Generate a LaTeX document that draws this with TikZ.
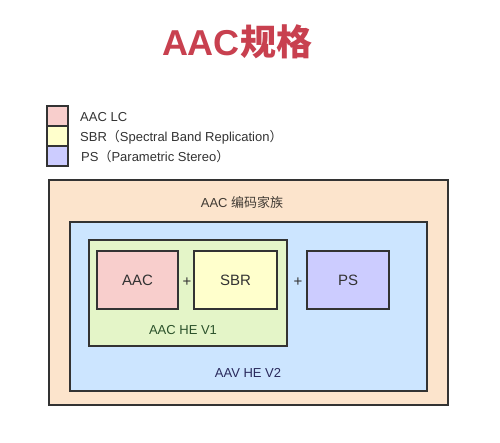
\documentclass[tikz,border=0pt]{standalone}
\usepackage{fontspec}
\setmainfont{Liberation Sans}
\newfontfamily\cjk{Noto Sans CJK SC}
\definecolor{titlered}{HTML}{C8404F}
\definecolor{peach}{HTML}{FCE4CC}
\definecolor{skyblue}{HTML}{CCE5FF}
\definecolor{lightgreen}{HTML}{E4F5C8}
\definecolor{lightpink}{HTML}{F8CECC}
\definecolor{lightyellow}{HTML}{FFFFCC}
\definecolor{lightpurple}{HTML}{CCCCFF}
\definecolor{edge}{HTML}{333333}
\tikzset{
	box/.style={draw=edge, line width=1.6pt, inner sep=0pt, font=\fontsize{15}{17}\selectfont, text=edge},
	legendbox/.style={draw=edge, line width=1.6pt, minimum width=21pt, minimum height=20pt, inner sep=0pt},
	legendtext/.style={anchor=west, inner sep=0pt, font=\fontsize{13}{15}\selectfont, text=edge},
	label text/.style={inner sep=0pt, font=\fontsize{13}{15}\selectfont}
}
\begin{document}
\begin{tikzpicture}[x=1pt, y=-1pt]
				\useasboundingbox [fill=white] (0,0) rectangle (500,442);
				\node [text=titlered, font=\fontsize{36}{40}\selectfont\bfseries] (title) at (237,42) {AAC{\cjk 规格}};

				\node [legendbox, fill=lightpink] (lgaac) at (57.5,116) {};
				\node [legendbox, fill=lightyellow] (lgsbr) at (57.5,136) {};
				\node [legendbox, fill=lightpurple] (lgps) at (57.5,156) {};
				\node [legendtext] (lgaactext) at (80,117) {AAC LC};
				\node [legendtext] (lgsbrtext) at (80,137) {SBR{\cjk （}Spectral Band Replication{\cjk ）}};
				\node [legendtext] (lgpstext) at (81,157) {PS{\cjk （}Parametric Stereo{\cjk ）}};

				\node [box, fill=peach, minimum width=399pt, minimum height=225pt] (family) at (248.5,292.5) {};
				\node [label text, text=edge!90!brown] (familytext) at (242,203) {AAC {\cjk 编码家族}};
				\node [box, fill=skyblue, minimum width=357pt, minimum height=169pt] (hev2) at (248.5,306.5) {};
				\node [label text, text=edge!80!blue] (hev2text) at (248,373) {AAV HE V2};
				\node [box, fill=lightgreen, minimum width=198pt, minimum height=106pt] (hev1) at (188,293) {};
				\node [label text, text=edge!85!green] (hev1text) at (183,330) {AAC HE V1};

				\node [box, fill=lightpink, minimum width=81pt, minimum height=58pt] (aac) at (137.5,280) {AAC};
				\node [box, fill=lightyellow, minimum width=83pt, minimum height=58pt] (sbr) at (235.5,280) {SBR};
				\node [box, fill=lightpurple, minimum width=82pt, minimum height=58pt] (ps) at (348,280) {PS};
				\node [label text, text=edge, font=\fontsize{15}{17}\selectfont] (plusa) at (187,282) {+};
				\node [label text, text=edge, font=\fontsize{15}{17}\selectfont] (plusb) at (298,282) {+};

			\end{tikzpicture}
\end{document}
